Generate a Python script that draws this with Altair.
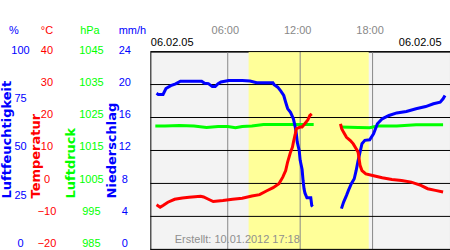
import altair as alt
import pandas as pd

# ---------------- data (hours of day / values) ----------------
hum1_h = [0.1, 0.24, 0.64, 0.88, 1.28, 1.68, 2.08, 3.2, 3.84, 4.08, 4.4, 4.72, 4.96, 5.2, 5.44, 6.08,
          7.2, 7.84, 8.4, 9.74, 9.84, 10.14, 10.4, 10.64, 10.8, 10.96, 11.2, 11.44, 11.6, 11.68, 11.76,
          11.92, 12.0, 12.08, 12.16, 12.24, 12.32, 12.4, 12.56, 12.88, 12.96, 13.04]
hum1_v = [78.9, 78.3, 78.3, 81.3, 82.8, 83.7, 85.0, 85.0, 85.0, 84.0, 83.8, 82.3, 82.3, 83.8, 84.6, 85.4,
          85.4, 85.1, 84.3, 84.2, 83.3, 82.0, 80.0, 77.8, 74.4, 71.2, 69.3, 66.0, 61.6, 58.6, 54.2,
          50.0, 45.0, 42.8, 40.4, 34.8, 30.7, 28.4, 26.1, 26.1, 22.2, 21.7]
hum2_h = [15.42, 15.6, 15.84, 16.0, 16.24, 16.48, 16.64, 16.8, 16.96, 17.12, 17.36, 17.76, 18.08, 18.4,
          18.8, 19.36, 20.0, 20.8, 21.6, 22.4, 23.04, 23.6, 23.84, 24.0]
hum2_v = [20.6, 23.9, 27.3, 29.8, 33.2, 35.7, 39.9, 44.9, 49.1, 53.4, 55.1, 55.4, 58.4, 63.5,
          66.0, 67.7, 69.0, 69.7, 71.1, 72.2, 73.6, 74.4, 76.1, 77.8]

tmp1_h = [0.1, 0.4, 0.64, 1.04, 1.6, 2.24, 2.8, 3.76, 4.0, 4.4, 4.8, 5.6, 6.4, 7.2, 8.0, 8.64, 9.2,
          9.76, 10.24, 10.56, 10.8, 10.96, 11.2, 11.36, 11.44, 11.6, 11.68, 12.0, 12.16, 12.4, 12.64,
          12.8, 12.96]
tmp1_v = [-6.5, -7.2, -6.7, -5.7, -4.8, -4.4, -4.2, -3.9, -4.1, -4.8, -5.5, -5.2, -4.8, -4.5, -3.8,
          -3.4, -2.3, -1.3, -0.1, 1.9, 3.9, 6.5, 9.5, 11.0, 12.5, 15.1, 16.6, 17.1, 17.1, 18.2, 19.3,
          20.6, 21.1]
tmp2_h = [15.34, 15.44, 15.6, 15.84, 16.16, 16.4, 16.64, 16.8, 16.88, 16.96, 17.12, 17.44, 18.0,
          18.8, 19.6, 20.4, 21.2, 22.0, 22.56, 23.2, 23.84]
tmp2_v = [18.1, 16.6, 15.5, 14.0, 13.0, 12.0, 10.5, 9.5, 7.5, 5.5, 3.9, 2.9, 2.4,
          1.7, 1.2, 0.9, 0.4, -0.6, -1.6, -2.1, -2.6]

prs1_h = [0.0, 0.8, 2.0, 3.2, 4.24, 5.2, 6.0, 6.64, 7.2, 8.0, 8.96, 11.2, 13.12]
prs1_v = [1022.4, 1022.4, 1022.6, 1022.4, 1022.0, 1022.3, 1022.3, 1021.9, 1022.3, 1022.4,
          1022.9, 1022.9, 1022.9]
prs2_h = [15.34, 16.8, 17.76, 18.4, 20.0, 21.6, 23.84]
prs2_v = [1022.1, 1022.0, 1021.9, 1022.4, 1022.4, 1022.8, 1022.8]

rain_h = [0, 6, 12, 18]
rain_v = [0, 0, 0, 0]

daylight_start = [7.73]
daylight_end = [17.68]

hour_ticks = [6, 12, 18]
hum_ticks = [0, 25, 50, 75, 100]
tmp_ticks = [-20, -10, 0, 10, 20, 30, 40]
prs_ticks = [985, 995, 1005, 1015, 1025, 1035, 1045]
rain_ticks = [0, 4, 8, 12, 16, 20, 24]

date_text = "06.02.05"
created_text = "Erstellt: 10.01.2012 17:18"

# ---------------- styling ----------------
BLUE = "#0000ff"
RED = "#ff0000"
GREEN = "#00ff00"
GRAY = "#888888"
LABEL_FONT = "Liberation Sans"
TITLE_FONT = "DejaVu Sans"


def seg_df(parts):
    rows = []
    for i, (hs, vs) in enumerate(parts):
        for h, v in zip(hs, vs):
            rows.append({"h": h, "v": v, "seg": i})
    return pd.DataFrame(rows)


x_axis = alt.Axis(orient="top", values=hour_ticks, title=None, ticks=False, domain=False, grid=False,
                  labelExpr="(datum.value < 10 ? '0' : '') + datum.value + ':00'",
                  labelColor=GRAY, labelFont=LABEL_FONT, labelFontSize=11,
                  labelPadding=21.5, labelBaseline="middle", labelOffset=-3)
x_scale = alt.Scale(domain=[0, 24], nice=False, zero=False)


def X(field):
    return alt.X(f"{field}:Q", scale=x_scale, axis=x_axis)


def y_axis(ticks, color, pad, title, tx):
    lo, hi = ticks[0], ticks[-1]
    off = {"expr": f"-1.5 - 4 * ({hi} - datum.value) / {hi - lo}"}
    return alt.Axis(orient="left", values=ticks, format="d", ticks=False, domain=False, grid=False,
                    labelColor=color, labelFont=LABEL_FONT, labelFontSize=11,
                    labelAlign="center", labelBaseline="middle", labelPadding=pad, labelOffset=off,
                    labelOverlap=False,
                    title=title, titleColor=color, titleFont=TITLE_FONT, titleFontSize=13,
                    titleFontWeight="bold", titleAngle=270, titleAlign="left",
                    titleBaseline="middle", titleX=tx, titleY=146.5)


day = alt.Chart(pd.DataFrame({"s": daylight_start, "e": daylight_end})).mark_rect(
    color="#ffff99").encode(x=X("s"), x2="e:Q")

vgrid = alt.Chart(pd.DataFrame({"h": hour_ticks})).mark_rule(
    color=GRAY, strokeWidth=1).encode(x=X("h"))

hgrid = alt.Chart(pd.DataFrame({"t": tmp_ticks})).mark_rule(
    color="black", strokeWidth=1).encode(
    y=alt.Y("t:Q", scale=alt.Scale(domain=[-20, 40], nice=False, zero=False), axis=None))

rain = alt.Chart(pd.DataFrame({"h": rain_h, "v": rain_v})).mark_bar(color=BLUE, size=2).encode(
    x=X("h"),
    y=alt.Y("v:Q", scale=alt.Scale(domain=[0, 24], nice=False, zero=False),
            axis=y_axis(rain_ticks, BLUE, 26, "Niederschlag", -38.5)))

prs = alt.Chart(seg_df([(prs1_h, prs1_v), (prs2_h, prs2_v)])).mark_line(
    color=GREEN, strokeWidth=3).encode(
    x=X("h"),
    y=alt.Y("v:Q", scale=alt.Scale(domain=[985, 1045], nice=False, zero=False),
            axis=y_axis(prs_ticks, GREEN, 59.5, "Luftdruck", -80)),
    detail="seg:N")

hum = alt.Chart(seg_df([(hum1_h, hum1_v), (hum2_h, hum2_v)])).mark_line(
    color=BLUE, strokeWidth=3).encode(
    x=X("h"),
    y=alt.Y("v:Q", scale=alt.Scale(domain=[0, 100], nice=False, zero=False),
            axis=y_axis(hum_ticks, BLUE, 130.5, "Luftfeuchtigkeit", -143.5)),
    detail="seg:N")

tmp = alt.Chart(seg_df([(tmp1_h, tmp1_v), (tmp2_h, tmp2_v)])).mark_line(
    color=RED, strokeWidth=3).encode(
    x=X("h"),
    y=alt.Y("v:Q", scale=alt.Scale(domain=[-20, 40], nice=False, zero=False),
            axis=y_axis(tmp_ticks, RED, 104, "Temperatur", -115)),
    detail="seg:N")


def label(text, px, py, color, align="center", size=11):
    return alt.Chart(pd.DataFrame({"t": [text]})).mark_text(
        align=align, baseline="middle", font=LABEL_FONT, fontSize=size, color=color).encode(
        text="t:N", x=alt.value(px), y=alt.value(py))


texts = [
    label("%", -136.5, -21, BLUE),
    label("°C", -103.5, -21, RED),
    label("hPa", -60.5, -21, GREEN),
    label("mm/h", -18, -21, BLUE),
    label(date_text, 0.5, -8.2, "black", align="left"),
    label(date_text, 291.5, -8.2, "black", align="right"),
    label(created_text, 24.5, 189, "#8f8f8f", align="left"),
]

chart = alt.layer(day, vgrid, hgrid, rain, prs, hum, tmp, *texts).resolve_scale(
    y="independent").properties(
    width=300, height=198, autosize="none",
    padding={"left": 150.5, "top": 51.5, "right": 0, "bottom": 0},
    background="white").configure_view(stroke="black", strokeWidth=1, fill="#f3f3f3")

chart.save("out.html", embed_options={"renderer": "svg", "actions": False})
